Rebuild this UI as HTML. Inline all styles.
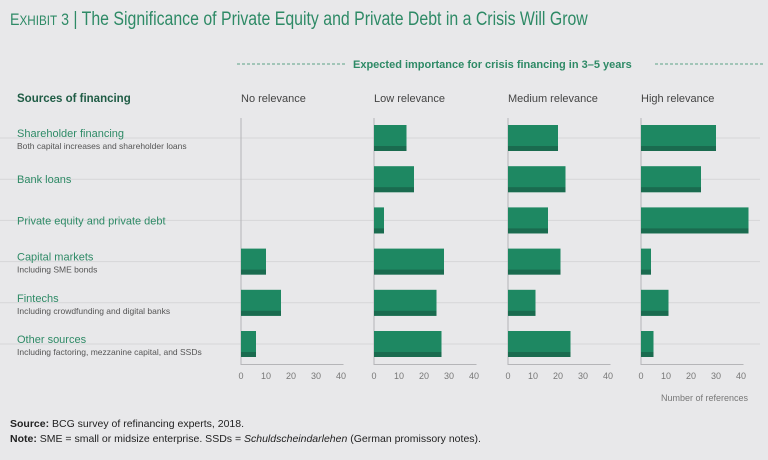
<!DOCTYPE html>
<html><head><meta charset="utf-8"><style>
body{margin:0;background:#e8e8ea;font-family:"Liberation Sans",sans-serif;}
#wrap{position:relative;width:768px;height:460px;overflow:hidden;background:#e8e8ea}
.t{position:absolute;white-space:nowrap}
</style></head><body>
<div id="wrap">
<div class="t" style="left:10px;top:9px;font-size:19px;color:#2e8a66;transform:scaleX(0.835);transform-origin:0 0"><span style="font-size:17px">E<span style="font-size:14px">XHIBIT</span> 3</span> | The Significance of Private Equity and Private Debt in a Crisis Will Grow</div>
<svg id="svg" width="768" height="460" style="position:absolute;left:0;top:0"></svg>
<div class="t" style="left:10px;top:418px;font-size:10.5px;color:#222"><b>Source:</b> BCG survey of refinancing experts, 2018.</div>
<div class="t" style="left:10px;top:433px;font-size:10.5px;color:#222"><b>Note:</b> SME = small or midsize enterprise. SSDs = <i>Schuldscheindarlehen</i> (German promissory notes).</div>
</div>
<script>
const categories=["Shareholder financing","Bank loans","Private equity and private debt","Capital markets","Fintechs","Other sources"];
const subtitles=["Both capital increases and shareholder loans","","","Including SME bonds","Including crowdfunding and digital banks","Including factoring, mezzanine capital, and SSDs"];
const panels=["No relevance","Low relevance","Medium relevance","High relevance"];
const noRelevance=[0,0,0,10,16,6];
const lowRelevance=[13,16,4,28,25,27];
const mediumRelevance=[20,23,16,21,11,25];
const highRelevance=[30,24,43,4,11,5];
const ticks=[0,10,20,30,40];
const series=[noRelevance,lowRelevance,mediumRelevance,highRelevance];
const svg=document.getElementById('svg');
const NS='http://www.w3.org/2000/svg';
function el(tag,attrs,text){const e=document.createElementNS(NS,tag);for(const k in attrs)e.setAttribute(k,attrs[k]);if(text!==undefined)e.textContent=text;svg.appendChild(e);return e;}
const origins=[241,374,508,641];
const pxPerUnit=2.5;
function xScale(p,v){return origins[p]+v*pxPerUnit;}
function yRow(i){return 138+i*41.2;}
const barH=26;
let e=el('line',{x1:237,y1:64,x2:345,y2:64,stroke:'#2e8a66','stroke-dasharray':'3,2','stroke-width':0.8});

e=el('line',{x1:655,y1:64,x2:765,y2:64,stroke:'#2e8a66','stroke-dasharray':'3,2','stroke-width':0.8});

e=el('text',{x:353,y:68,'font-size':11,'font-weight':'bold',fill:'#2e8a66'},'Expected importance for crisis financing in 3–5 years');

e=el('text',{x:17,y:102,'font-size':11.5,'font-weight':'bold',fill:'#1f5c45'},'Sources of financing');

panels.forEach((p,k)=>{const t=el('text',{x:origins[k],y:102,'font-size':11,fill:'#444'},p);
});
categories.forEach((c,i)=>{const y=yRow(i);
const g=el('line',{x1:0,y1:y,x2:760,y2:y,stroke:'#d6d6d8','stroke-width':1});

const sub=subtitles[i];
const t=el('text',{x:17,y:sub?y-1:y+4,'font-size':11,fill:'#2e8a66'},c);

if(sub){const s=el('text',{x:17,y:y+11,'font-size':8.5,fill:'#555'},sub);
}
});
series.forEach((vals,k)=>{
const a=el('line',{x1:origins[k],y1:118,x2:origins[k],y2:365,stroke:'#b5b5b8','stroke-width':1});

const b=el('line',{x1:origins[k],y1:364.5,x2:xScale(k,41),y2:364.5,stroke:'#b5b5b8','stroke-width':1});

ticks.forEach(tv=>{const t=el('text',{x:xScale(k,tv),y:379,'font-size':9,fill:'#777','text-anchor':'middle'},String(tv));
});
vals.forEach((v,i)=>{if(v<=0)return;const y=yRow(i)-13;const w=v*pxPerUnit;
const r=el('rect',{x:origins[k],y:y,width:w,height:barH,fill:'#1e8862'});

const r2=el('rect',{x:origins[k],y:y+barH-5,width:w,height:5,fill:'#1a6b4f'});
});
});
e=el('text',{x:748,y:401,'font-size':9,fill:'#777','text-anchor':'end'},'Number of references');

</script>
</body></html>
